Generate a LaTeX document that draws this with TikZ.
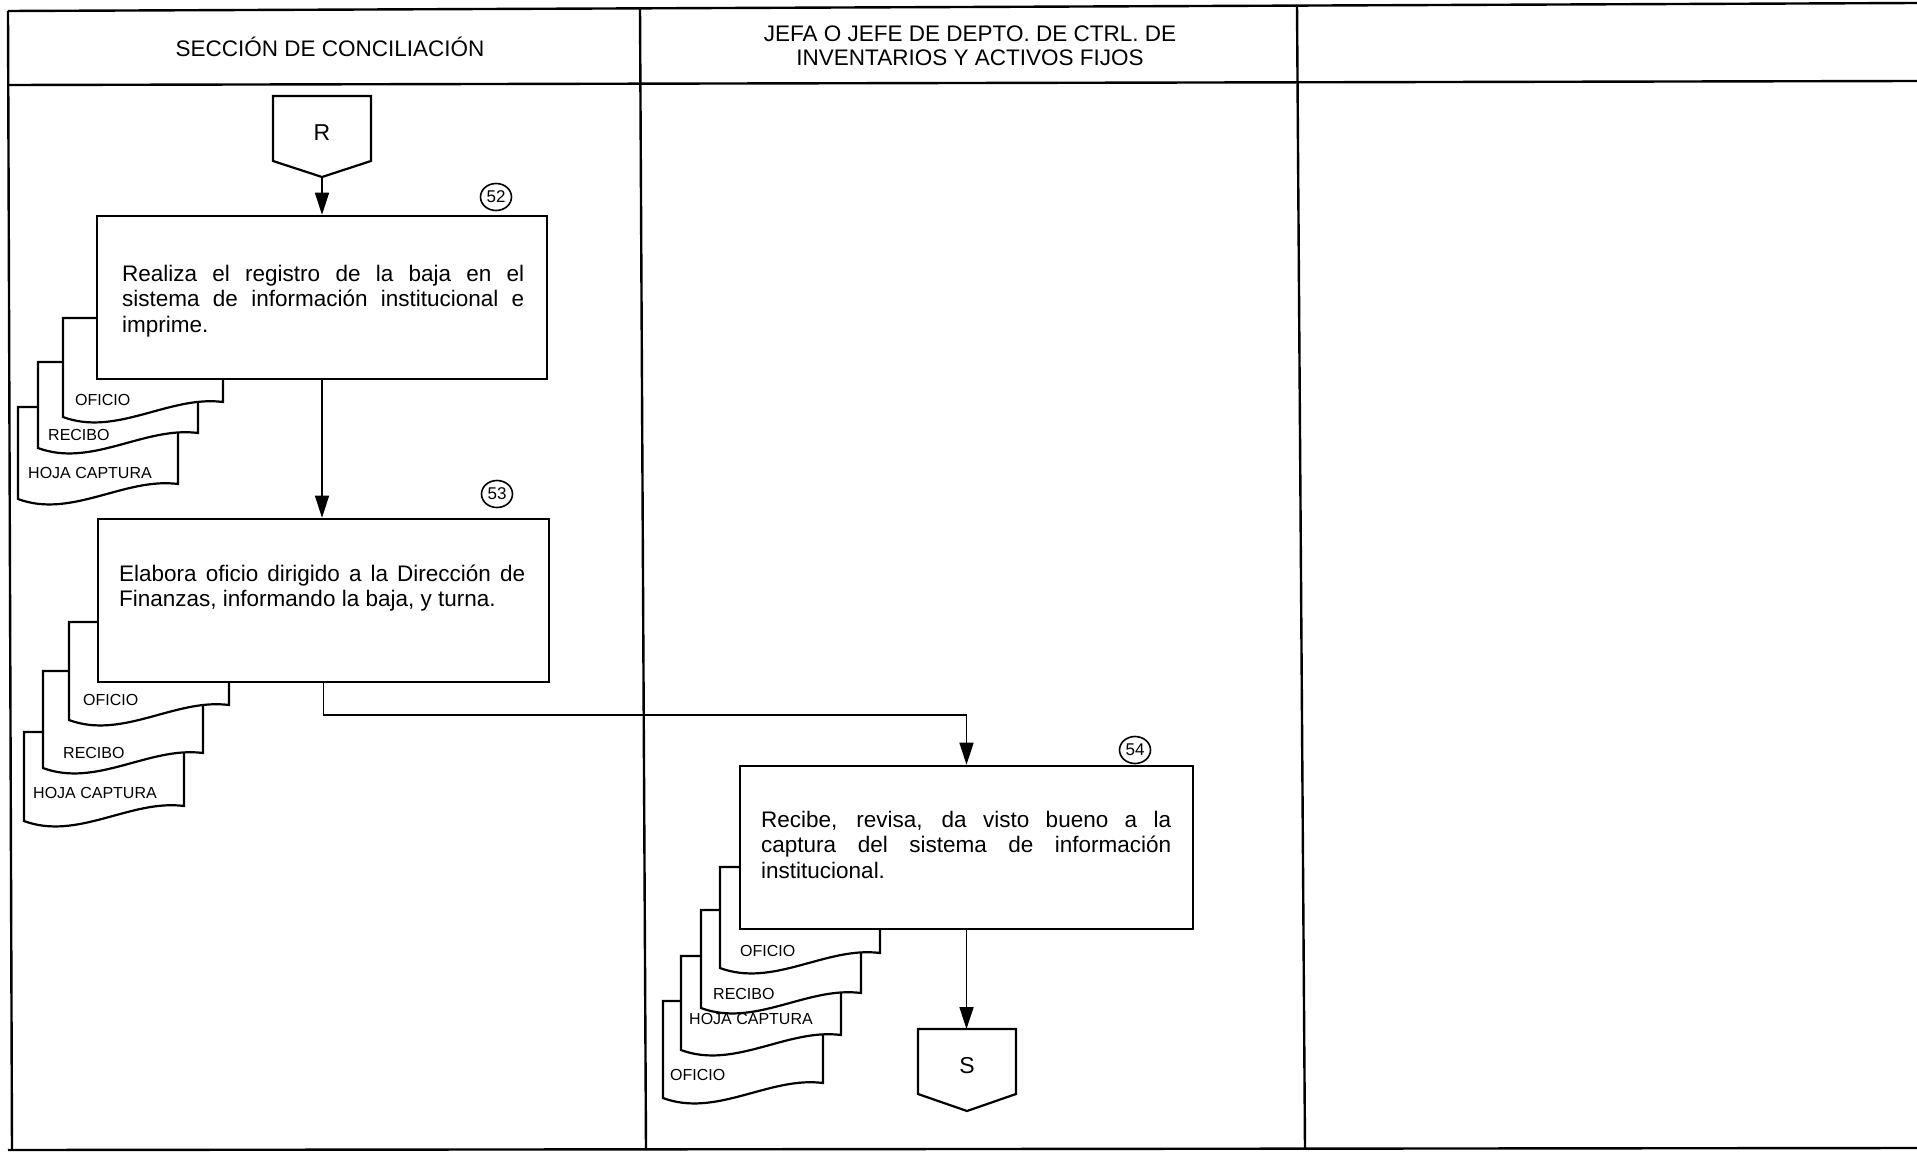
\documentclass[tikz,border=0pt]{standalone}
\usepackage{fontspec}
\setmainfont{Liberation Sans}
\usetikzlibrary{arrows.meta,shapes.geometric}
\hyphenpenalty=10000
\exhyphenpenalty=10000
\tolerance=9999
\hbadness=10000
\newcommand\docpage[7]{%
  \draw[docsh] (#1,#2) -- (#1+160,#2) -- (#1+160,#3-15)
    .. controls (#1+106.7,#3-22) and (#1+53.3,#3+20) .. (#1,#3) -- cycle;
  \node[doclbl] (#7) at (#5,#6) {#4};}
\begin{document}
\begin{tikzpicture}[x=1pt,y=-1pt,
  tbl/.style={line width=2.4pt},
  procbox/.style={draw, fill=white, line width=2.6pt, inner sep=0pt},
  docsh/.style={draw, fill=white, line width=2.2pt},
  flow/.style={line width=1.7pt, -{Triangle[length=22pt,width=14pt]}},
  proctext/.style={anchor=base west, inner sep=0pt, align=justify, font=\fontsize{22.5}{25.5}\selectfont},
  doclbl/.style={anchor=west, inner sep=0pt, font=\fontsize{16}{18}\selectfont},
  hdr/.style={align=center, inner sep=0pt, font=\fontsize{22.5}{24}\selectfont},
  stepnum/.style={ellipse, draw, line width=1.6pt, minimum width=31pt, minimum height=27pt, inner sep=0pt, font=\fontsize{17}{18}\selectfont},
  conn/.style={draw, fill=white, line width=2.2pt},
  connlbl/.style={inner sep=0pt, font=\fontsize{23}{24}\selectfont}
]
\useasboundingbox (0,0) rectangle (1917,1153);
\fill[white] (0,0) rectangle (1917,1153);

% table
\draw[tbl] (8,11) -- (1917,3);
\draw[tbl] (8,85) -- (1917,81);
\draw[tbl] (8,1150) -- (1917,1148);
\draw[tbl] (8,11) -- (12,1150);
\draw[tbl] (640,8) -- (646,1150);
\draw[tbl] (1297,5) -- (1305,1149);

\node[hdr] (h1) at (330,47) {SECCIÓN DE CONCILIACIÓN};
\node[hdr] (h2) at (970,46) {JEFA O JEFE DE DEPTO. DE CTRL. DE\\INVENTARIOS Y ACTIVOS FIJOS};

% documents
\docpage{18}{407}{499}{HOJA CAPTURA}{28}{473}{d52c}
\docpage{38}{362}{448}{RECIBO}{48}{435}{d52b}
\docpage{63}{318}{417}{OFICIO}{75}{400}{d52a}

\docpage{24}{732}{821}{HOJA CAPTURA}{33}{793}{d53c}
\docpage{43}{671}{768}{RECIBO}{63}{753}{d53b}
\docpage{69}{622}{720}{OFICIO}{83}{700}{d53a}

\docpage{663}{1001}{1098}{OFICIO}{670}{1075}{d54d}
\docpage{681}{956}{1050}{HOJA CAPTURA}{689}{1019}{d54c}
\docpage{701}{910}{1008}{RECIBO}{713}{994}{d54b}
\docpage{720}{867}{968}{OFICIO}{740}{951}{d54a}

% process boxes
\node[procbox, minimum width=450pt, minimum height=163pt] (b52) at (322,297.5) {};
\node[procbox, minimum width=451pt, minimum height=163pt] (b53) at (323.5,600.5) {};
\node[procbox, minimum width=453pt, minimum height=163pt] (b54) at (966.5,847.5) {};

\node[proctext, text width=402pt] (t52) at (122,281) {Realiza el registro de la baja en el\linebreak sistema de información institucional e\linebreak imprime.};
\node[proctext, text width=406pt] (t53) at (119,581) {Elabora oficio dirigido a la Dirección de\linebreak Finanzas, informando la baja, y turna.};
\node[proctext, text width=410pt] (t54) at (761,827) {Recibe, revisa, da visto bueno a la\linebreak captura del sistema de información\linebreak institucional.};

\node[stepnum] (n52) at (496,197) {52};
\node[stepnum] (n53) at (497,494) {53};
\node[stepnum] (n54) at (1135,750) {54};

% off-page connectors
\draw[conn] (273,96) -- (371,96) -- (371,161) -- (322,177) -- (273,161) -- cycle;
\node[connlbl] (rlbl) at (322,133) {R};
\coordinate (rtip) at (322,177);

\draw[conn] (918,1029) -- (1016,1029) -- (1016,1094) -- (967,1111) -- (918,1094) -- cycle;
\node[connlbl] (slbl) at (967,1066) {S};
\coordinate (stop) at (967,1029);

% flow
\draw[flow] (rtip) -- (b52.north);
\draw[flow] (b52.south) -- (b52.south |- b53.north);
\draw[flow] (b53.south) -- ++(0,32) -| (b54.north);
\draw[flow] (b54.south) -- (b54.south |- stop);
\end{tikzpicture}
\end{document}
